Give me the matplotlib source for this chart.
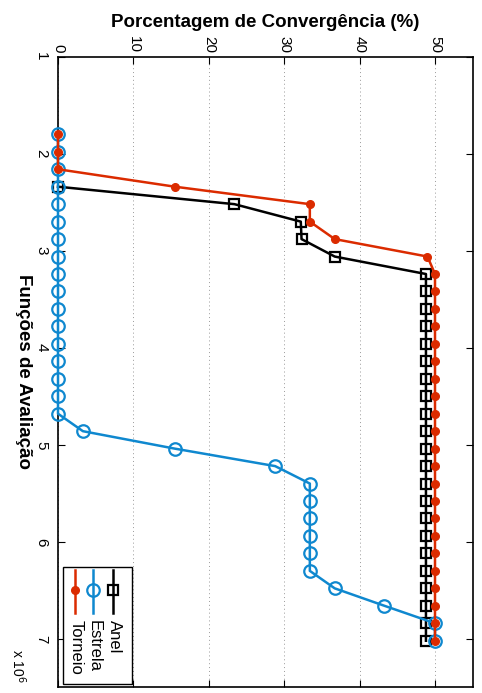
import matplotlib
matplotlib.use("Agg")
import matplotlib.pyplot as plt
from matplotlib.patches import Rectangle
from matplotlib.lines import Line2D

plt.rcParams['font.family'] = ['Liberation Sans', 'DejaVu Sans']

# Function evaluations (x 10^6)
fevals = [1.80, 1.98, 2.16, 2.34, 2.52, 2.70, 2.88, 3.06, 3.24, 3.42,
          3.60, 3.78, 3.96, 4.14, 4.32, 4.50, 4.68, 4.86, 5.04, 5.22,
          5.40, 5.58, 5.76, 5.94, 6.12, 6.30, 6.48, 6.66, 6.84, 7.02]

# Anel starts at the 4th evaluation point
anel_fevals = fevals[3:]
anel = [0, 23.4, 32.2, 32.3, 36.7, 48.8, 48.8, 48.8, 48.8, 48.8,
        48.8, 48.8, 48.8, 48.8, 48.8, 48.8, 48.8, 48.8, 48.8, 48.8,
        48.8, 48.8, 48.8, 48.8, 48.8, 48.8, 48.8]
estrela = [0, 0, 0, 0, 0, 0, 0, 0, 0, 0,
           0, 0, 0, 0, 0, 0, 0, 3.3, 15.5, 28.8,
           33.4, 33.4, 33.4, 33.4, 33.4, 33.4, 36.7, 43.3, 50.0, 50.0]
torneio = [0, 0, 0, 15.5, 33.4, 33.4, 36.7, 49.0, 50.0, 50.0,
           50.0, 50.0, 50.0, 50.0, 50.0, 50.0, 50.0, 50.0, 50.0, 50.0,
           50.0, 50.0, 50.0, 50.0, 50.0, 50.0, 50.0, 50.0, 50.0, 50.0]

names = ['Anel', 'Estrela', 'Torneio']
xticks = [0, 10, 20, 30, 40, 50]
yticks = [1, 2, 3, 4, 5, 6, 7]

RED = '#DB2B00'
BLUE = '#0F88CF'
BLACK = '#000000'
LW = 1.8

fig = plt.figure(figsize=(4.82, 6.93), dpi=100)
ax = fig.add_axes([58/482, 1 - 687.3/693, 414.7/482, 630.6/693])

scale = 1e6
ax.plot(anel, [v * scale for v in anel_fevals], color=BLACK, lw=LW,
        marker='s', ms=7.5, mfc='none', mec=BLACK, mew=1.6, clip_on=False, zorder=3)
ax.plot(estrela, [v * scale for v in fevals], color=BLUE, lw=LW,
        marker='o', ms=9, mfc='none', mec=BLUE, mew=1.6, clip_on=False, zorder=4)
ax.plot(torneio, [v * scale for v in fevals], color=RED, lw=LW,
        marker='o', ms=5.5, mfc=RED, mec=RED, mew=1, clip_on=False, zorder=5)

ax.set_xlim(0, 55)
ax.set_ylim(7.5e6, 1e6)

ax.set_xticks(xticks)
ax.set_xticklabels([str(t) for t in xticks], rotation=-90, fontsize=11)
ax.set_yticks([t * scale for t in yticks])
ax.set_yticklabels([str(t) for t in yticks], rotation=-90, fontsize=11,
                   va='center')
ax.xaxis.tick_top()
ax.tick_params(axis='both', direction='in', length=5, width=0.8,
               top=True, bottom=True, left=True, right=True)
ax.tick_params(axis='x', pad=3)
ax.tick_params(axis='y', pad=7)

ax.grid(axis='x', color='#999999', linestyle=(0, (1, 3)), linewidth=0.7)
ax.set_axisbelow(True)
for s in ax.spines.values():
    s.set_linewidth(1.2)

ax.xaxis.set_label_position('top')
ax.set_xlabel('Porcentagem de Convergência (%)', fontsize=13.5,
              fontweight='bold')
ax.xaxis.label.set_verticalalignment('center')
ax.xaxis.label.set_horizontalalignment('center')
ax.xaxis.set_label_coords(0.5, 1.054)
ax.set_ylabel('Funções de Avaliação', fontsize=13.5, fontweight='bold',
              rotation=-90, ha='center', va='center', rotation_mode='default')
ax.yaxis.set_label_coords(-0.082, 0.5)

fig.text(18/482, 1 - 666/693, 'x 10$^{6}$', fontsize=10, rotation=-90,
         ha='center', va='center')

# Rotated legend, drawn manually
ax.add_patch(Rectangle((0.0113, 0.0052), 0.179 - 0.0113, 0.1903 - 0.0052,
                       transform=ax.transAxes, facecolor='white',
                       edgecolor='black', lw=1.0, zorder=6))
leg_x = [0.1334, 0.0851, 0.041]
styles = [dict(color=BLACK, marker='s', ms=7.5, mfc='none', mec=BLACK, mew=1.6),
          dict(color=BLUE, marker='o', ms=9, mfc='none', mec=BLUE, mew=1.6),
          dict(color=RED, marker='o', ms=5.5, mfc=RED, mec=RED, mew=1)]
for name, lx, st in zip(names, leg_x, styles):
    ax.add_line(Line2D([lx, lx], [0.1861, 0.1180], transform=ax.transAxes,
                       lw=LW, color=st['color'], zorder=7))
    ax.add_line(Line2D([lx], [0.1545], transform=ax.transAxes, lw=0,
                       zorder=8, **st))
    ax.text(lx + 0.003, 0.1067, name, transform=ax.transAxes, rotation=-90,
            ha='center', va='top', fontsize=12, zorder=9)

fig.savefig('out.png', dpi=100)
